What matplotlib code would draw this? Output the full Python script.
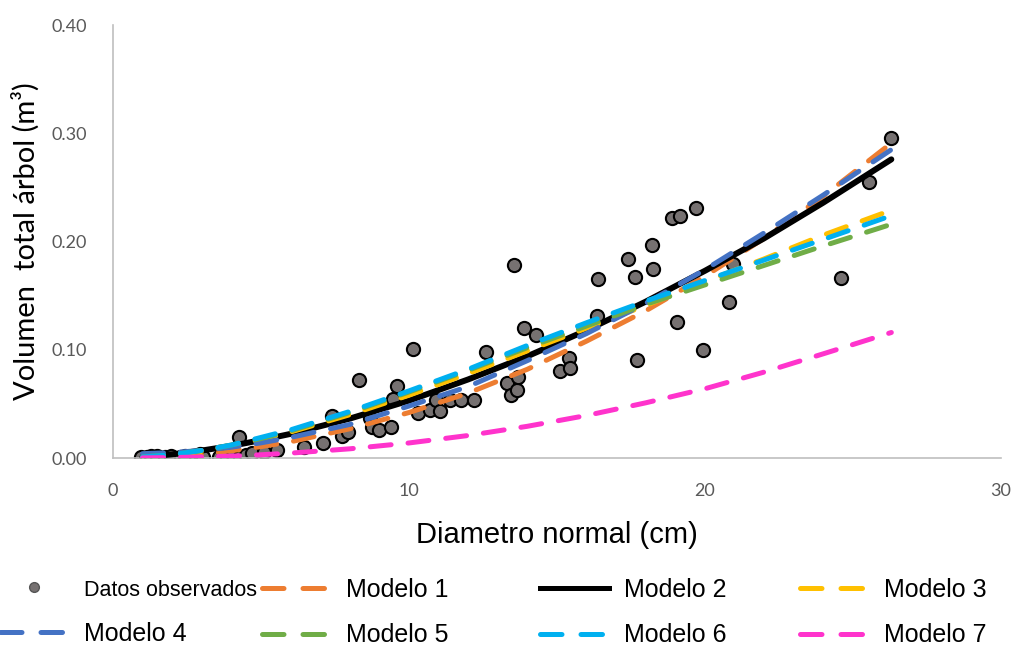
import numpy as np
import matplotlib
matplotlib.use('Agg')
from matplotlib import pyplot as plt
from matplotlib.lines import Line2D

# Observed data (diametro normal cm, volumen m3)
obs_x = [0.96, 1.15, 1.3, 1.5, 1.75, 1.95, 2.3, 2.45, 2.8, 2.95, 3.05, 3.6, 3.85,
         4.05, 4.25, 4.3, 4.5, 4.7, 5.1, 5.55, 6.45, 7.1, 7.4, 7.75, 7.95, 8.3,
         8.7, 8.75, 9.0, 9.4, 9.45, 9.6, 10.15, 10.3, 10.7, 10.9, 11.05, 11.4,
         11.75, 12.2, 12.6, 13.3, 13.45, 13.55, 13.65, 13.7, 13.9, 14.3, 15.1,
         15.4, 15.45, 16.35, 16.4, 17.4, 17.65, 17.7, 18.2, 18.25, 18.9, 19.05,
         19.15, 19.7, 19.95, 20.8, 20.95, 24.6, 25.55, 26.3]
obs_y = [0.001, 0.001, 0.002, 0.002, 0.001, 0.002, 0.001, 0.002, 0.002, 0.004,
         0.001, 0.001, 0.001, 0.003, 0.019, 0.001, 0.003, 0.005, 0.006, 0.007,
         0.010, 0.014, 0.039, 0.020, 0.024, 0.072, 0.037, 0.029, 0.026, 0.029,
         0.055, 0.067, 0.101, 0.042, 0.044, 0.054, 0.043, 0.054, 0.054, 0.054,
         0.098, 0.069, 0.058, 0.178, 0.063, 0.075, 0.120, 0.114, 0.080, 0.092,
         0.083, 0.131, 0.165, 0.184, 0.167, 0.091, 0.197, 0.175, 0.222, 0.126,
         0.224, 0.231, 0.100, 0.144, 0.179, 0.166, 0.255, 0.296]

# Fitted models
dn = [1, 2, 3, 4, 5, 6, 8, 10, 12, 14, 16, 18, 20, 22, 24, 26.3]
modelo1 = [0.0004, 0.0017, 0.0038, 0.0067, 0.0105, 0.015, 0.027, 0.042, 0.060,
           0.082, 0.108, 0.136, 0.168, 0.203, 0.242, 0.291]
modelo2 = [0.001, 0.0034, 0.0069, 0.0112, 0.0165, 0.0223, 0.0364, 0.053, 0.0726,
           0.094, 0.118, 0.1445, 0.173, 0.203, 0.236, 0.276]
modelo3 = [0.001, 0.003, 0.006, 0.011, 0.017, 0.024, 0.040, 0.058, 0.078, 0.099,
           0.120, 0.141, 0.163, 0.184, 0.206, 0.229]
modelo4 = [0.004, 0.005, 0.007, 0.010, 0.014, 0.019, 0.031, 0.048, 0.066, 0.090,
           0.115, 0.143, 0.174, 0.208, 0.243, 0.285]
modelo5 = [0.001, 0.003, 0.007, 0.012, 0.018, 0.025, 0.042, 0.061, 0.081, 0.102,
           0.122, 0.142, 0.160, 0.178, 0.196, 0.216]
modelo6 = [0.001, 0.003, 0.007, 0.012, 0.019, 0.026, 0.043, 0.062, 0.082, 0.104,
           0.125, 0.145, 0.164, 0.183, 0.202, 0.224]
modelo7 = [0.0001, 0.0004, 0.001, 0.0018, 0.003, 0.0045, 0.0085, 0.0139, 0.0208,
           0.0293, 0.0393, 0.051, 0.064, 0.0794, 0.0963, 0.116]

modelos = [modelo1, modelo2, modelo3, modelo4, modelo5, modelo6, modelo7]
colores = ['#ED7D31', '#000000', '#FFC000', '#4472C4', '#70AD47', '#00B0F0', '#FF33CC']
nombres = ['Modelo %d' % (i + 1) for i in range(7)]

plt.rcParams['font.family'] = ['Lato', 'DejaVu Sans']

fig = plt.figure(figsize=(10.13, 6.46), dpi=100)
ax = fig.add_axes([0.1115, 0.291, 0.8765, 0.670])

ax.plot(obs_x, obs_y, linestyle='none', marker='o', markersize=9.5,
        markerfacecolor='#767171', markeredgecolor='black', markeredgewidth=1.5,
        zorder=2)

for y, c in zip(modelos, colores):
    if c == '#000000':
        ax.plot(dn, y, color=c, lw=4.3, solid_capstyle='round', zorder=3)
    else:
        ax.plot(dn, y, color=c, lw=3.6, dashes=(4.2, 3.4),
                dash_capstyle='round', zorder=3)

ax.set_xlim(0, 30)
ax.set_ylim(0, 0.40)
ax.set_xticks([0, 10, 20, 30])
ax.set_yticks([0, 0.1, 0.2, 0.3, 0.4])
ax.set_yticklabels(['%.2f' % v for v in [0, 0.1, 0.2, 0.3, 0.4]])
ax.tick_params(length=0, labelsize=13, labelcolor='#595959')
ax.tick_params(axis='y', pad=19)
ax.tick_params(axis='x', pad=18)
for s in ['top', 'right']:
    ax.spines[s].set_visible(False)
for s in ['left', 'bottom']:
    ax.spines[s].set_color('#BFBFBF')
    ax.spines[s].set_linewidth(1.2)

ax.set_xlabel('Diametro normal (cm)', fontsize=21, family=['Liberation Sans'], labelpad=16)
ax.set_ylabel('Volumen  total árbol (m³)', fontsize=21, labelpad=8)

# Legend: one small legend per column, placed like the original
h_obs = Line2D([], [], linestyle='none', marker='o', markersize=7,
               markerfacecolor='#767171', markeredgecolor='#555555')
h_mod = []
for c in colores:
    if c == '#000000':
        h_mod.append(Line2D([], [], color=c, lw=3.6))
    else:
        h_mod.append(Line2D([], [], color=c, lw=3.6, dashes=(4.3, 3.8),
                            dash_capstyle='round'))

columnas = [([h_obs, h_mod[3]], ['Datos observados', nombres[3]], 0),
            ([h_mod[0], h_mod[4]], [nombres[0], nombres[4]], 262),
            ([h_mod[1], h_mod[5]], [nombres[1], nombres[5]], 540),
            ([h_mod[2], h_mod[6]], [nombres[2], nombres[6]], 800)]
for hs, ls, xpx in columnas:
    leg = fig.legend(hs, ls, loc='upper left', bbox_to_anchor=(xpx / 1013.0, 1 - 578 / 646.0),
                     frameon=False, handlelength=2.75, handletextpad=0.6,
                     labelspacing=0.85, borderpad=0, borderaxespad=0,
                     prop={'family': 'Liberation Sans', 'size': 18})
    if ls[0] == 'Datos observados':
        leg.get_texts()[0].set_fontsize(15.5)

fig.savefig('out.png', dpi=100)
